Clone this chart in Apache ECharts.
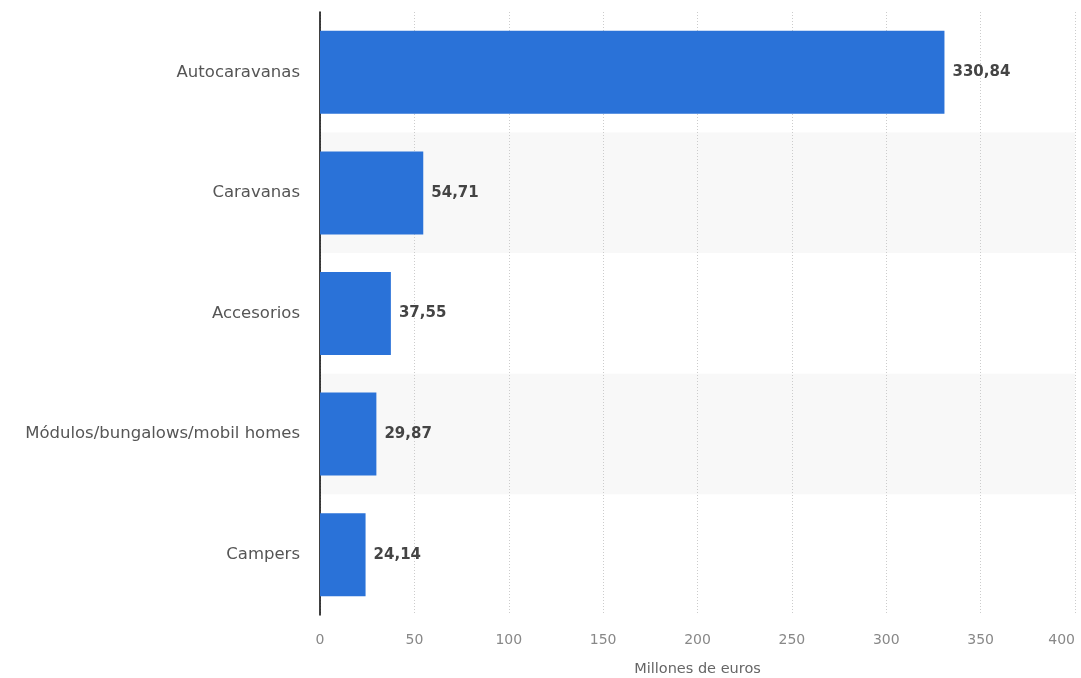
<!DOCTYPE html>
<html><head><meta charset="utf-8">
<script src="https://cdn.jsdelivr.net/npm/echarts@6/dist/echarts.min.js"></script>
<style>html,body{margin:0;padding:0;background:#fff}#c{width:1081px;height:678px}</style>
</head><body><div id="c"></div>
<script>
const categories = ['Autocaravanas','Caravanas','Accesorios','Módulos/bungalows/mobil homes','Campers'];
const values = [330.84, 54.71, 37.55, 29.87, 24.14];
const xTicks = [0,50,100,150,200,250,300,350,400];
const axisName = 'Millones de euros';

const chart = echarts.init(document.getElementById('c'));
chart.setOption({
  animation:false,
  backgroundColor:'#fff',
  grid:{left:320,right:6,top:12,bottom:63,containLabel:false,outerBoundsMode:'none'},
  xAxis:{type:'value',min:xTicks[0],max:xTicks[xTicks.length-1],interval:xTicks[1]-xTicks[0],
    name:axisName,nameLocation:'middle',nameGap:47,
    nameTextStyle:{color:'#666',fontSize:14.5,fontFamily:'DejaVu Sans'},
    axisLine:{show:false},axisTick:{show:false},
    axisLabel:{color:'#888',fontSize:14,margin:18,fontFamily:'DejaVu Sans',alignMaxLabel:'right'},
    splitLine:{show:true,lineStyle:{color:'#cccccc',type:[1,2],width:1}}},
  yAxis:{type:'category',data:categories,inverse:true,
    axisLine:{show:true,lineStyle:{color:'#000',width:1.5}},
    axisTick:{show:false},
    axisLabel:{color:'#555',fontSize:16.5,margin:20,fontFamily:'DejaVu Sans'},
    splitArea:{show:true,areaStyle:{color:['#ffffff','#f8f8f8']}}},
  series:[{type:'bar',data:values,barWidth:83,
    itemStyle:{color:'#2a72d8'},
    label:{show:true,position:'right',distance:8,color:'#444',fontWeight:'bold',fontSize:15,fontFamily:'DejaVu Sans',
      formatter:p=>p.value.toFixed(2).replace('.',',')}}]
});
</script></body></html>
